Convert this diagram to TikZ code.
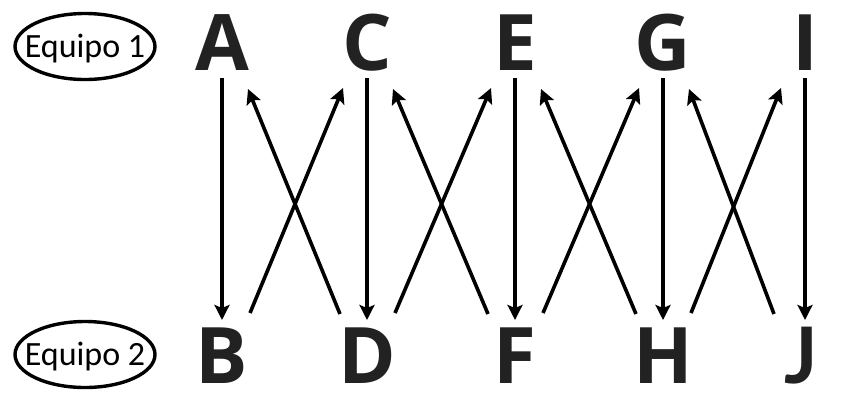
\documentclass[tikz,border=0pt]{standalone}
\usepackage{fontspec}
\setmainfont{Open Sans}
\newfontfamily\teamfont{Carlito}
\newfontfamily\jfont{Lato}
\usetikzlibrary{arrows.meta,calc,shapes.geometric}
\definecolor{lettergray}{HTML}{222222}
\tikzset{
  letter/.style={font=\fontsize{78}{78}\selectfont\bfseries, text=lettergray, inner sep=0pt, outer sep=0pt, text height=55pt, text depth=0pt, anchor=south},
  team/.style={ellipse, draw, line width=3.4pt, minimum width=140pt, minimum height=66pt, inner sep=0pt, font=\teamfont\fontsize{34}{34}\selectfont, text height=21pt, text depth=0pt},
  conn/.style={line width=3.6pt, -{Stealth[length=15pt,width=15pt,inset=3pt]}}
}
\begin{document}
\begin{tikzpicture}[x=1pt,y=-1pt]
\useasboundingbox (0,0) rectangle (850,400);
\node[team] (t1) at (85,46.5) {\makebox[0pt]{Equipo 1}};
\node[team] (t2) at (85,354.5) {\makebox[0pt]{Equipo 2}};
\node[letter] (A) at (222,70) {A};
\node[letter] (C) at (367,70) {C};
\node[letter] (E) at (515,70) {E};
\node[letter] (G) at (663,70) {G};
\node[letter] (I) at (805,70) {I};
\node[letter] (B) at (222,383) {B};
\node[letter] (D) at (367,383) {D};
\node[letter] (F) at (515,383) {F};
\node[letter] (H) at (663,383) {H};
\node[letter] (J) at (801,383) {\jfont\bfseries J};
\foreach \t/\b in {A/B,C/D,E/F,G/H}{
  \draw[conn] ($(\t.south)+(0,8)$) -- ($(\b.north)+(0,-8)$);
}
\draw[conn] ($(I.south)+(0,8)$) -- ($(I.south |- J.north)+(0,-8)$);
\foreach \tl/\tr/\bl/\br in {A/C/B/D,C/E/D/F,E/G/F/H,G/I/H/J}{
  \draw[conn] ($(\bl.north)+(28,-15)$) -- ($(\tr.south)+(-24,18)$);
  \draw[conn] ($(\br.north)+(-27,-14)$) -- ($(\tl.south)+(26,19)$);
}
\end{tikzpicture}
\end{document}
